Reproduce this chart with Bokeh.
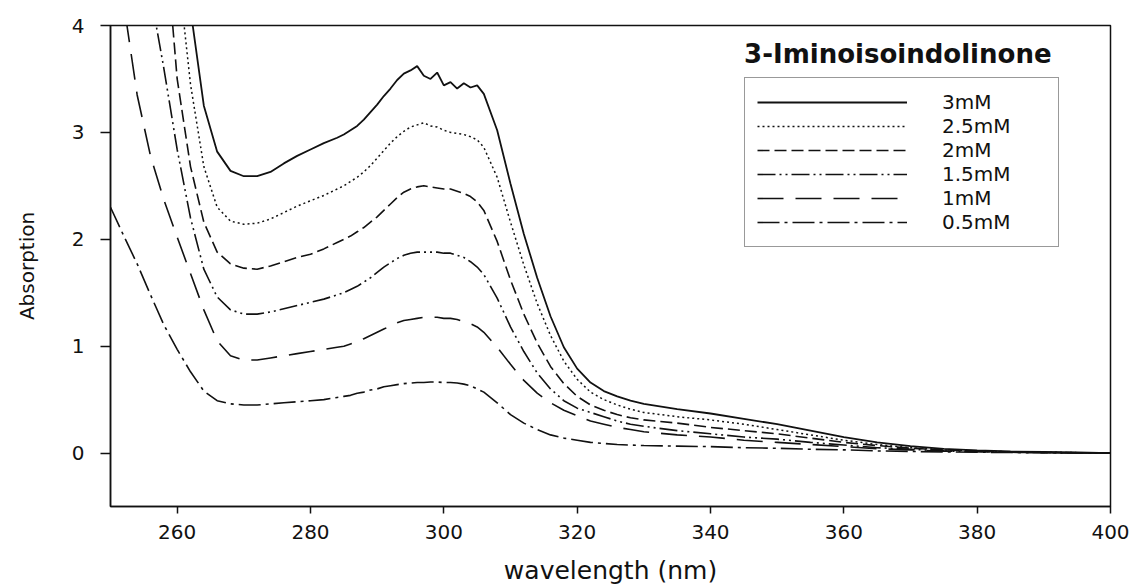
from bokeh.plotting import figure
from bokeh.models import Legend, LegendItem, Label, FixedTicker, Range1d
from bokeh.embed import file_html
from bokeh.resources import INLINE

# ---------------- data ----------------
wavelength = [250, 252, 254, 256, 258, 260, 262, 264, 266, 268, 270, 272, 274, 276, 278, 280, 282, 284,
              285, 286, 287, 288, 289, 290, 291, 292, 293, 294, 295, 296, 297, 298, 299, 300, 301, 302, 303, 304, 305, 306,
              308, 310, 312, 314, 316, 318, 320, 322, 324, 326, 328, 330,
              335, 340, 345, 350, 355, 360, 365, 370, 375, 380, 385, 390, 395, 400]

abs_3mM = [6.0, 6.0, 6.0, 6.0, 6.0, 5.2, 4.15, 3.25, 2.82, 2.64, 2.59, 2.59, 2.63, 2.71, 2.78, 2.84, 2.90, 2.95,
           2.98, 3.02, 3.06, 3.12, 3.19, 3.26, 3.34, 3.41, 3.49, 3.55, 3.58, 3.62, 3.53, 3.50, 3.56, 3.44, 3.47, 3.41, 3.46, 3.42, 3.44, 3.36,
           3.02, 2.52, 2.05, 1.64, 1.28, 0.99, 0.79, 0.66, 0.58, 0.53, 0.49, 0.46,
           0.41, 0.37, 0.32, 0.27, 0.21, 0.15, 0.10, 0.065, 0.04, 0.025, 0.015, 0.01, 0.005, 0.0]

abs_2_5mM = [6.0, 6.0, 6.0, 6.0, 6.0, 4.6, 3.45, 2.68, 2.30, 2.17, 2.14, 2.15, 2.19, 2.25, 2.31, 2.36, 2.41, 2.47,
             2.50, 2.54, 2.58, 2.63, 2.69, 2.76, 2.83, 2.90, 2.96, 3.01, 3.05, 3.07, 3.09, 3.06, 3.05, 3.02, 3.00, 2.99, 2.98, 2.96, 2.93, 2.86,
             2.58, 2.16, 1.76, 1.40, 1.10, 0.86, 0.69, 0.57, 0.50, 0.45, 0.41, 0.38,
             0.34, 0.31, 0.27, 0.22, 0.17, 0.12, 0.08, 0.05, 0.03, 0.02, 0.012, 0.008, 0.004, 0.0]

abs_2mM = [6.0, 6.0, 6.0, 6.0, 5.0, 3.5, 2.68, 2.16, 1.88, 1.77, 1.73, 1.72, 1.75, 1.79, 1.83, 1.86, 1.91, 1.97,
           2.00, 2.03, 2.07, 2.11, 2.16, 2.21, 2.27, 2.33, 2.39, 2.44, 2.47, 2.49, 2.50, 2.49, 2.48, 2.47, 2.47, 2.45, 2.43, 2.40, 2.35, 2.27,
           1.98, 1.62, 1.30, 1.03, 0.81, 0.65, 0.53, 0.45, 0.40, 0.36, 0.33, 0.31,
           0.28, 0.24, 0.21, 0.18, 0.14, 0.10, 0.07, 0.045, 0.03, 0.02, 0.01, 0.006, 0.003, 0.0]

abs_1_5mM = [6.0, 6.0, 5.5, 4.3, 3.6, 2.84, 2.2, 1.72, 1.46, 1.34, 1.30, 1.30, 1.32, 1.35, 1.38, 1.41, 1.44, 1.48,
             1.50, 1.53, 1.56, 1.60, 1.64, 1.69, 1.74, 1.78, 1.82, 1.85, 1.87, 1.88, 1.88, 1.88, 1.88, 1.87, 1.87, 1.85, 1.83, 1.79, 1.74, 1.67,
             1.45, 1.18, 0.95, 0.75, 0.60, 0.49, 0.42, 0.38, 0.34, 0.30, 0.27, 0.25,
             0.21, 0.18, 0.15, 0.13, 0.10, 0.075, 0.05, 0.035, 0.02, 0.014, 0.008, 0.005, 0.002, 0.0]

abs_1mM = [5.5, 4.2, 3.35, 2.78, 2.37, 2.02, 1.68, 1.34, 1.05, 0.91, 0.87, 0.87, 0.89, 0.91, 0.93, 0.95, 0.97, 0.99,
           1.00, 1.02, 1.04, 1.07, 1.10, 1.13, 1.16, 1.19, 1.22, 1.24, 1.25, 1.26, 1.27, 1.27, 1.27, 1.26, 1.26, 1.25, 1.23, 1.21, 1.18, 1.13,
           0.99, 0.83, 0.68, 0.56, 0.47, 0.40, 0.35, 0.30, 0.27, 0.24, 0.22, 0.20,
           0.17, 0.15, 0.12, 0.10, 0.08, 0.06, 0.04, 0.03, 0.018, 0.012, 0.007, 0.004, 0.002, 0.0]

abs_0_5mM = [2.30, 2.03, 1.77, 1.48, 1.20, 0.97, 0.76, 0.58, 0.49, 0.46, 0.45, 0.45, 0.46, 0.47, 0.48, 0.49, 0.50, 0.52,
             0.53, 0.54, 0.56, 0.57, 0.59, 0.60, 0.62, 0.63, 0.64, 0.65, 0.655, 0.66, 0.66, 0.665, 0.665, 0.66, 0.66, 0.655, 0.645, 0.63, 0.60, 0.57,
             0.47, 0.36, 0.28, 0.22, 0.17, 0.14, 0.12, 0.10, 0.09, 0.08, 0.075, 0.07,
             0.065, 0.06, 0.05, 0.045, 0.035, 0.03, 0.02, 0.015, 0.01, 0.008, 0.005, 0.003, 0.001, 0.0]

series_labels = ["3mM", "2.5mM", "2mM", "1.5mM", "1mM", "0.5mM"]
x_ticks = [260, 280, 300, 320, 340, 360, 380, 400]
y_ticks = [0, 1, 2, 3, 4]
title_text = "3-Iminoisoindolinone"
x_label = "wavelength (nm)"
y_label = "Absorption"

FONT = "DejaVu Sans"

# ---------------- figure ----------------
p = figure(width=1134, height=587, output_backend="svg", toolbar_location=None,
           x_range=Range1d(250, 400), y_range=Range1d(-0.5, 4),
           min_border_left=110, min_border_right=24, min_border_top=25, min_border_bottom=81)
p.background_fill_color = "white"
p.border_fill_color = "white"
p.xgrid.visible = False
p.ygrid.visible = False
p.outline_line_color = "#111111"
p.outline_line_width = 1.5

for ax in (p.xaxis[0], p.yaxis[0]):
    ax.axis_line_color = "#111111"
    ax.axis_line_width = 1.5
    ax.major_tick_line_color = "#111111"
    ax.major_tick_line_width = 1.5
    ax.minor_tick_line_color = None
    ax.major_tick_in = 0
    ax.major_label_text_font = FONT
    ax.major_label_text_font_size = "20px"
    ax.major_label_text_color = "#111111"
    ax.axis_label_text_font = FONT
    ax.axis_label_text_font_style = "normal"
    ax.axis_label_text_color = "#111111"

p.xaxis[0].ticker = FixedTicker(ticks=x_ticks)
p.xaxis[0].major_tick_out = 7
p.xaxis[0].major_label_standoff = 11
p.xaxis[0].axis_label = x_label
p.xaxis[0].axis_label_text_font_size = "25px"
p.xaxis[0].axis_label_standoff = 14

p.yaxis[0].ticker = FixedTicker(ticks=y_ticks)
p.yaxis[0].major_tick_out = 10
p.yaxis[0].major_label_standoff = 16
p.yaxis[0].axis_label = y_label
p.yaxis[0].axis_label_text_font_size = "20px"
p.yaxis[0].axis_label_standoff = 30

series = [abs_3mM, abs_2_5mM, abs_2mM, abs_1_5mM, abs_1mM, abs_0_5mM]
dashes = ["solid", "2 3", "12 5", "18 4 2 4 2 4", "26 12", "22 5 3 5"]
widths = [1.8, 1.5, 1.6, 1.6, 1.6, 1.6]

items = []
for lab, ys, dash, w in zip(series_labels, series, dashes, widths):
    r = p.line(wavelength, ys, line_color="#111111", line_width=w, line_dash=dash)
    items.append(LegendItem(label=lab, renderers=[r]))

legend = Legend(items=items, location=(634, 259),
                glyph_width=150, glyph_height=20, label_height=20, label_width=104,
                label_standoff=35, spacing=0, padding=12, margin=0,
                label_text_font=FONT, label_text_font_size="20px", label_text_color="#111111",
                border_line_color="#333333", border_line_width=1.2,
                background_fill_color="white", background_fill_alpha=1.0)
p.add_layout(legend)

title = Label(x=368.1, y=3.73, text=title_text, text_align="center", text_baseline="alphabetic",
              text_font=FONT, text_font_size="26px", text_font_style="bold", text_color="#111111")
p.add_layout(title)

open("out.html", "w").write(file_html(p, INLINE))
